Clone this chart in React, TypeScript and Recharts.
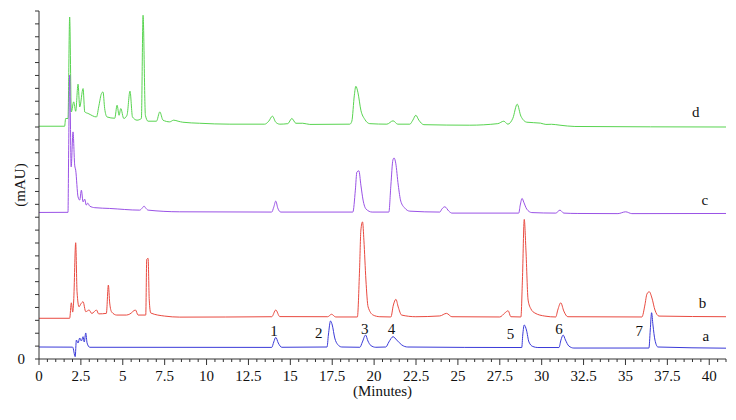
import { LineChart, Line, XAxis, YAxis, ReferenceDot } from 'recharts';

type Pt = [number, number];

// trace a (blue, standards)
const traceA: Pt[] = [
    [0, 0.93], [2.01, 0.92], [2.16, 0.18], [2.23, 1.47], [2.33, 1.24], [2.43, 1.63], [2.53, 1.4],
    [2.63, 1.73], [2.7, 1.32], [2.79, 2.02], [2.87, 1.24], [3.03, 0.91], [13.89, 0.9],
    [14.01, 1.32], [14.13, 1.68], [14.28, 1.24], [14.49, 0.91], [17.19, 0.93], [17.27, 1.86],
    [17.4, 2.95], [17.5, 2.64], [17.65, 1.63], [17.83, 1.12], [18.07, 0.93], [19.15, 0.91],
    [19.3, 1.32], [19.49, 1.86], [19.63, 1.4], [19.8, 1.05], [20.1, 0.91], [20.7, 0.93],
    [20.88, 1.32], [21.13, 1.73], [21.35, 1.47], [21.65, 1.09], [22.01, 0.93], [28.81, 0.89],
    [28.87, 1.86], [28.96, 2.64], [29.09, 2.25], [29.24, 1.32], [29.47, 0.97], [29.77, 0.89],
    [31.03, 0.89], [31.15, 1.47], [31.28, 1.86], [31.42, 1.47], [31.62, 1.01], [31.92, 0.85],
    [36.4, 0.85], [36.48, 2.25], [36.56, 3.59], [36.64, 2.64], [36.76, 1.47], [36.94, 0.93],
    [41, 0.84],
];

// trace b (red)
const traceB: Pt[] = [
    [0, 3.16], [1.83, 3.16], [1.93, 4.36], [2.01, 3.64], [2.07, 4.5], [2.19, 9.02], [2.27, 5.22],
    [2.39, 4.05], [2.49, 4.26], [2.63, 4.44], [2.79, 3.67], [2.99, 3.8], [3.15, 3.53], [3.43, 3.8],
    [3.56, 3.5], [4.02, 3.54], [4.14, 5.74], [4.22, 4.34], [4.34, 3.64], [4.64, 3.41], [5.22, 3.41],
    [5.42, 3.49], [5.76, 3.8], [5.91, 3.41], [6.37, 3.41], [6.43, 7.73], [6.51, 7.81], [6.58, 4.57],
    [6.67, 3.57], [7.5, 3.33], [8.4, 3.25], [13.89, 3.28], [14.13, 3.8], [14.37, 3.29],
    [17.23, 3.28], [17.46, 3.47], [17.71, 3.26], [19.0, 3.26], [19.13, 6.9], [19.21, 10.0],
    [19.31, 10.64], [19.39, 9.22], [19.51, 6.13], [19.64, 4.05], [19.94, 3.41], [20.34, 3.28],
    [21.0, 3.26], [21.15, 4.19], [21.3, 4.63], [21.44, 4.03], [21.64, 3.41], [22.49, 3.28],
    [23.92, 3.34], [24.32, 3.54], [24.64, 3.28], [27.5, 3.26], [27.8, 3.57], [28.0, 3.74],
    [28.16, 3.28], [28.76, 3.26], [28.85, 6.12], [28.96, 10.83], [29.06, 8.45], [29.19, 4.57],
    [29.36, 3.88], [29.59, 3.57], [30.19, 3.33], [30.84, 3.26], [30.96, 3.8], [31.14, 4.36],
    [31.32, 3.72], [31.56, 3.28], [35.98, 3.26], [36.16, 4.19], [36.28, 5.04], [36.42, 5.22],
    [36.58, 4.73], [36.76, 3.8], [37.0, 3.33], [41, 3.28],
];

// trace c (purple)
const traceC: Pt[] = [
    [0, 11.37], [1.73, 11.38], [1.77, 16.2], [1.83, 22.02], [1.92, 14.91], [2.03, 17.62],
    [2.13, 15.04], [2.19, 14.65], [2.33, 12.58], [2.43, 12.33], [2.53, 13.1], [2.63, 12.19],
    [2.73, 12.4], [2.82, 11.94], [2.91, 12.09], [3.03, 11.86], [3.33, 11.74], [4.22, 11.68],
    [6.01, 11.55], [6.16, 11.71], [6.27, 11.86], [6.37, 11.71], [6.51, 11.55], [8.4, 11.42],
    [13.89, 11.4], [14.01, 11.78], [14.13, 12.25], [14.25, 11.71], [14.43, 11.4], [18.73, 11.4],
    [18.88, 13.1], [18.97, 14.5], [19.09, 14.6], [19.21, 13.49], [19.34, 12.33], [19.52, 11.63],
    [19.88, 11.4], [20.88, 11.4], [21.0, 13.49], [21.12, 15.43], [21.19, 15.6], [21.29, 15.19],
    [21.44, 13.49], [21.59, 12.25], [21.83, 11.71], [22.13, 11.47], [23.92, 11.4], [24.04, 11.63],
    [24.22, 11.81], [24.46, 11.47], [24.64, 11.32], [28.63, 11.32], [28.72, 11.94], [28.83, 12.46],
    [28.93, 12.17], [29.11, 11.63], [29.41, 11.36], [30.84, 11.32], [31.09, 11.55], [31.32, 11.32],
    [32.16, 11.29], [34.55, 11.28], [35.01, 11.42], [35.38, 11.28], [41, 11.29],
];

// trace d (green)
const traceD: Pt[] = [
    [0, 18.06], [1.53, 18.06], [1.59, 18.66], [1.73, 18.66], [1.83, 26.53], [1.93, 19.17],
    [2.07, 19.95], [2.19, 19.22], [2.33, 21.32], [2.43, 19.56], [2.63, 20.98], [2.73, 19.17],
    [2.93, 19.05], [3.43, 18.78], [3.58, 19.69], [3.73, 20.6], [3.82, 20.72], [3.92, 19.43],
    [4.06, 18.78], [4.52, 18.68], [4.66, 19.69], [4.78, 18.91], [4.88, 19.43], [5.06, 18.66],
    [5.25, 18.91], [5.43, 20.78], [5.58, 18.78], [5.85, 18.53], [6.11, 18.66], [6.21, 26.67],
    [6.35, 18.91], [6.51, 18.45], [7.01, 18.45], [7.21, 19.17], [7.4, 18.53], [7.8, 18.4],
    [8.04, 18.53], [8.3, 18.45], [8.58, 18.37], [9.59, 18.29], [11.39, 18.22], [13.47, 18.22],
    [13.71, 18.45], [13.93, 18.84], [14.13, 18.37], [14.37, 18.22], [14.85, 18.26], [15.09, 18.66],
    [15.33, 18.29], [15.74, 18.29], [16.16, 18.2], [18.55, 18.22], [18.67, 18.45], [18.82, 20.47],
    [18.91, 21.16], [19.03, 20.7], [19.21, 19.3], [19.44, 18.6], [19.74, 18.26], [20.76, 18.22],
    [21.13, 18.48], [21.41, 18.22], [22.13, 18.22], [22.31, 18.53], [22.49, 18.91], [22.67, 18.53],
    [22.97, 18.18], [25.71, 18.14], [27.38, 18.26], [27.74, 18.45], [27.98, 18.22], [28.28, 18.68],
    [28.54, 19.77], [28.76, 18.84], [29.12, 18.37], [29.93, 18.3], [30.25, 18.2], [30.59, 18.21],
    [31.09, 18.14], [31.98, 18.04], [41, 18.0],
];

const series = [
    { key: 'd', points: traceD, color: '#58d450' },
    { key: 'c', points: traceC, color: '#9a52e6' },
    { key: 'b', points: traceB, color: '#e94a40' },
    { key: 'a', points: traceA, color: '#3a3ad8' },
];

const xTickValues = [
    0, 2.5, 5, 7.5, 10, 12.5, 15, 17.5, 20, 22.5, 25, 27.5, 30, 32.5, 35, 37.5, 40,
];
const xTickLabels = [
    '0', '2.5', '5', '7.5', '10', '12.5', '15', '17.5', '20', '22.5', '25', '27.5', '30',
    '32.5', '35', '37.5', '40',
];
const xTicks = Array.from({ length: 83 }, (_, i) => i * 0.5);
const yTicks = Array.from({ length: 28 }, (_, i) => i);

const peakLabels = [
    { t: 14.03, v: 2.19, text: '1' },
    { t: 16.7, v: 2.07, text: '2' },
    { t: 19.44, v: 2.38, text: '3' },
    { t: 21.03, v: 2.33, text: '4' },
    { t: 28.14, v: 2.0, text: '5' },
    { t: 31.03, v: 2.38, text: '6' },
    { t: 35.82, v: 2.19, text: '7' },
];

const traceLabels = [
    { t: 39.2, v: 19.17, text: 'd' },
    { t: 39.74, v: 12.4, text: 'c' },
    { t: 39.6, v: 4.4, text: 'b' },
    { t: 39.8, v: 1.78, text: 'a' },
];

const FONT = 'Liberation Serif, DejaVu Serif, serif';
const AXIS = '#333';
const textStyle = { fontFamily: FONT, fontSize: 15, fill: '#111' };

const XTick = ({ x, y, payload }: any) => {
    const idx = xTickValues.findIndex(v => Math.abs(v - payload.value) < 1e-6);
    const major = idx >= 0;
    return (
        <g>
            <line x1={x} x2={x} y1={y} y2={y + (major ? 6 : 3)} stroke={AXIS} />
            {major && (
                <text x={x} y={y + 22} textAnchor="middle" style={textStyle}>
                    {xTickLabels[idx]}
                </text>
            )}
        </g>
    );
};

const YTick = ({ x, y, payload }: any) => (
    <g>
        <line x1={x - 4} x2={x} y1={y} y2={y} stroke={AXIS} />
        {payload.value === 0 && (
            <text x={x - 14} y={y + 5} textAnchor="end" style={textStyle}>
                0
            </text>
        )}
    </g>
);

export default function App() {
    return (
        <div style={{ position: 'absolute', left: 0, top: 0, width: 736, height: 420, background: '#fff', fontFamily: FONT }}>
            <LineChart width={736} height={420} margin={{ top: 11, right: 10, bottom: 0, left: 0 }} style={{ fontFamily: FONT }}>
                <XAxis
                    type="number"
                    dataKey="t"
                    domain={[0, 41]}
                    ticks={xTicks}
                    interval={0}
                    tickSize={0}
                    tickMargin={0}
                    tickLine={false}
                    tick={<XTick />}
                    axisLine={{ stroke: AXIS }}
                    height={61}
                    allowDataOverflow
                    label={{ value: '(Minutes)', position: 'insideBottom', offset: 24, style: textStyle }}
                />
                <YAxis
                    type="number"
                    domain={[0, 27]}
                    ticks={yTicks}
                    interval={0}
                    width={39}
                    tickSize={0}
                    tickMargin={0}
                    tickLine={false}
                    tick={<YTick />}
                    axisLine={{ stroke: AXIS }}
                    allowDataOverflow
                    label={{ value: '(mAU)', angle: -90, position: 'insideLeft', offset: 20, style: { ...textStyle, textAnchor: 'middle' } }}
                />
                {series.map(s => (
                    <Line
                        key={s.key}
                        data={s.points.map(([t, v]) => ({ t, v }))}
                        dataKey="v"
                        type="monotone"
                        stroke={s.color}
                        strokeWidth={1}
                        dot={false}
                        activeDot={false}
                        isAnimationActive={false}
                    />
                ))}
                {[...peakLabels, ...traceLabels].map(l => (
                    <ReferenceDot
                        key={l.text}
                        x={l.t}
                        y={l.v}
                        r={0}
                        stroke="none"
                        fill="none"
                        label={{ value: l.text, position: 'center', style: textStyle }}
                    />
                ))}
            </LineChart>
        </div>
    );
}
